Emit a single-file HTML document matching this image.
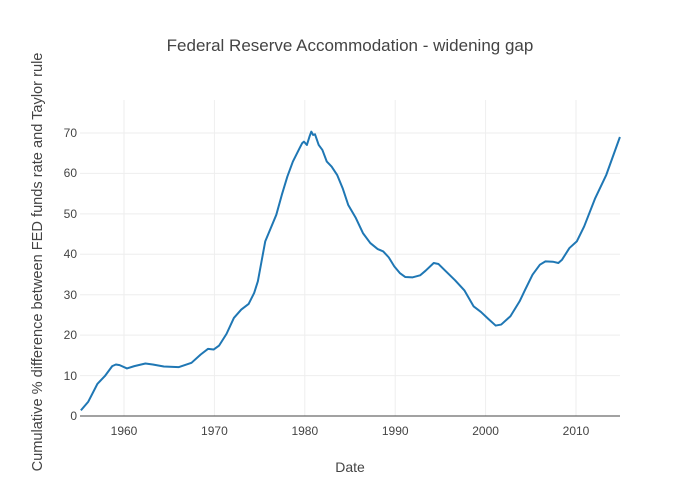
<!DOCTYPE html>
<html><head><style>body{margin:0;background:#fff}svg{display:block;font-family:"Liberation Sans",sans-serif;fill:#444}</style></head>
<body>
<svg width="700" height="500" xmlns="http://www.w3.org/2000/svg">
<rect width="700" height="500" fill="#fff"/>
<g stroke="#eee" stroke-width="1">
<line x1="124" y1="100" x2="124" y2="416"/><line x1="214.4" y1="100" x2="214.4" y2="416"/><line x1="304.8" y1="100" x2="304.8" y2="416"/><line x1="395.2" y1="100" x2="395.2" y2="416"/><line x1="485.6" y1="100" x2="485.6" y2="416"/><line x1="576" y1="100" x2="576" y2="416"/>
<line x1="80" y1="375.6" x2="620" y2="375.6"/><line x1="80" y1="335.1" x2="620" y2="335.1"/><line x1="80" y1="294.7" x2="620" y2="294.7"/><line x1="80" y1="254.3" x2="620" y2="254.3"/><line x1="80" y1="213.9" x2="620" y2="213.9"/><line x1="80" y1="173.4" x2="620" y2="173.4"/><line x1="80" y1="133" x2="620" y2="133"/>
</g>
<line x1="80" y1="416" x2="620" y2="416" stroke="#444" stroke-width="1"/>
<polyline transform="matrix(0.3687,0,0,0.3326,60.6,111.7)" vector-effect="non-scaling-stroke" fill="none" stroke="#1f77b4" stroke-width="2" stroke-linejoin="round"
points="55,898 75,872 100,818 120,795 140,765 150,760 160,762 180,772 200,765 230,757 250,760 280,766 320,768 355,755 380,730 400,713 415,715 430,703 450,668 470,620 490,595 510,578 525,545 535,510 545,450 555,390 570,350 585,310 600,250 615,195 630,150 648,110 655,95 660,90 668,100 675,75 680,60 685,70 690,68 700,100 710,115 722,150 735,165 750,190 765,230 780,280 800,318 820,365 840,395 860,413 875,420 890,438 905,465 920,485 935,497 955,498 975,492 990,478 1012,455 1025,458 1045,480 1070,507 1095,537 1120,585 1140,602 1160,623 1180,643 1195,640 1220,615 1245,570 1260,535 1280,490 1300,460 1315,450 1335,451 1350,455 1360,445 1380,410 1400,390 1420,345 1450,260 1480,190 1517,76"/>
<g font-size="12" text-anchor="middle">
<text x="124" y="435">1960</text><text x="214.4" y="435">1970</text><text x="304.8" y="435">1980</text><text x="395.2" y="435">1990</text><text x="485.6" y="435">2000</text><text x="576" y="435">2010</text>
</g>
<g font-size="12" text-anchor="end">
<text x="77" y="420">0</text><text x="77" y="380">10</text><text x="77" y="339">20</text><text x="77" y="299">30</text><text x="77" y="258">40</text><text x="77" y="218">50</text><text x="77" y="177">60</text><text x="77" y="137">70</text>
</g>
<text x="350" y="51" font-size="17" text-anchor="middle">Federal Reserve Accommodation - widening gap</text>
<text x="350" y="472" font-size="14" text-anchor="middle">Date</text>
<text transform="translate(42,262) rotate(-90)" font-size="14.6" text-anchor="middle">Cumulative % difference between FED funds rate and Taylor rule</text>
</svg>
</body></html>
